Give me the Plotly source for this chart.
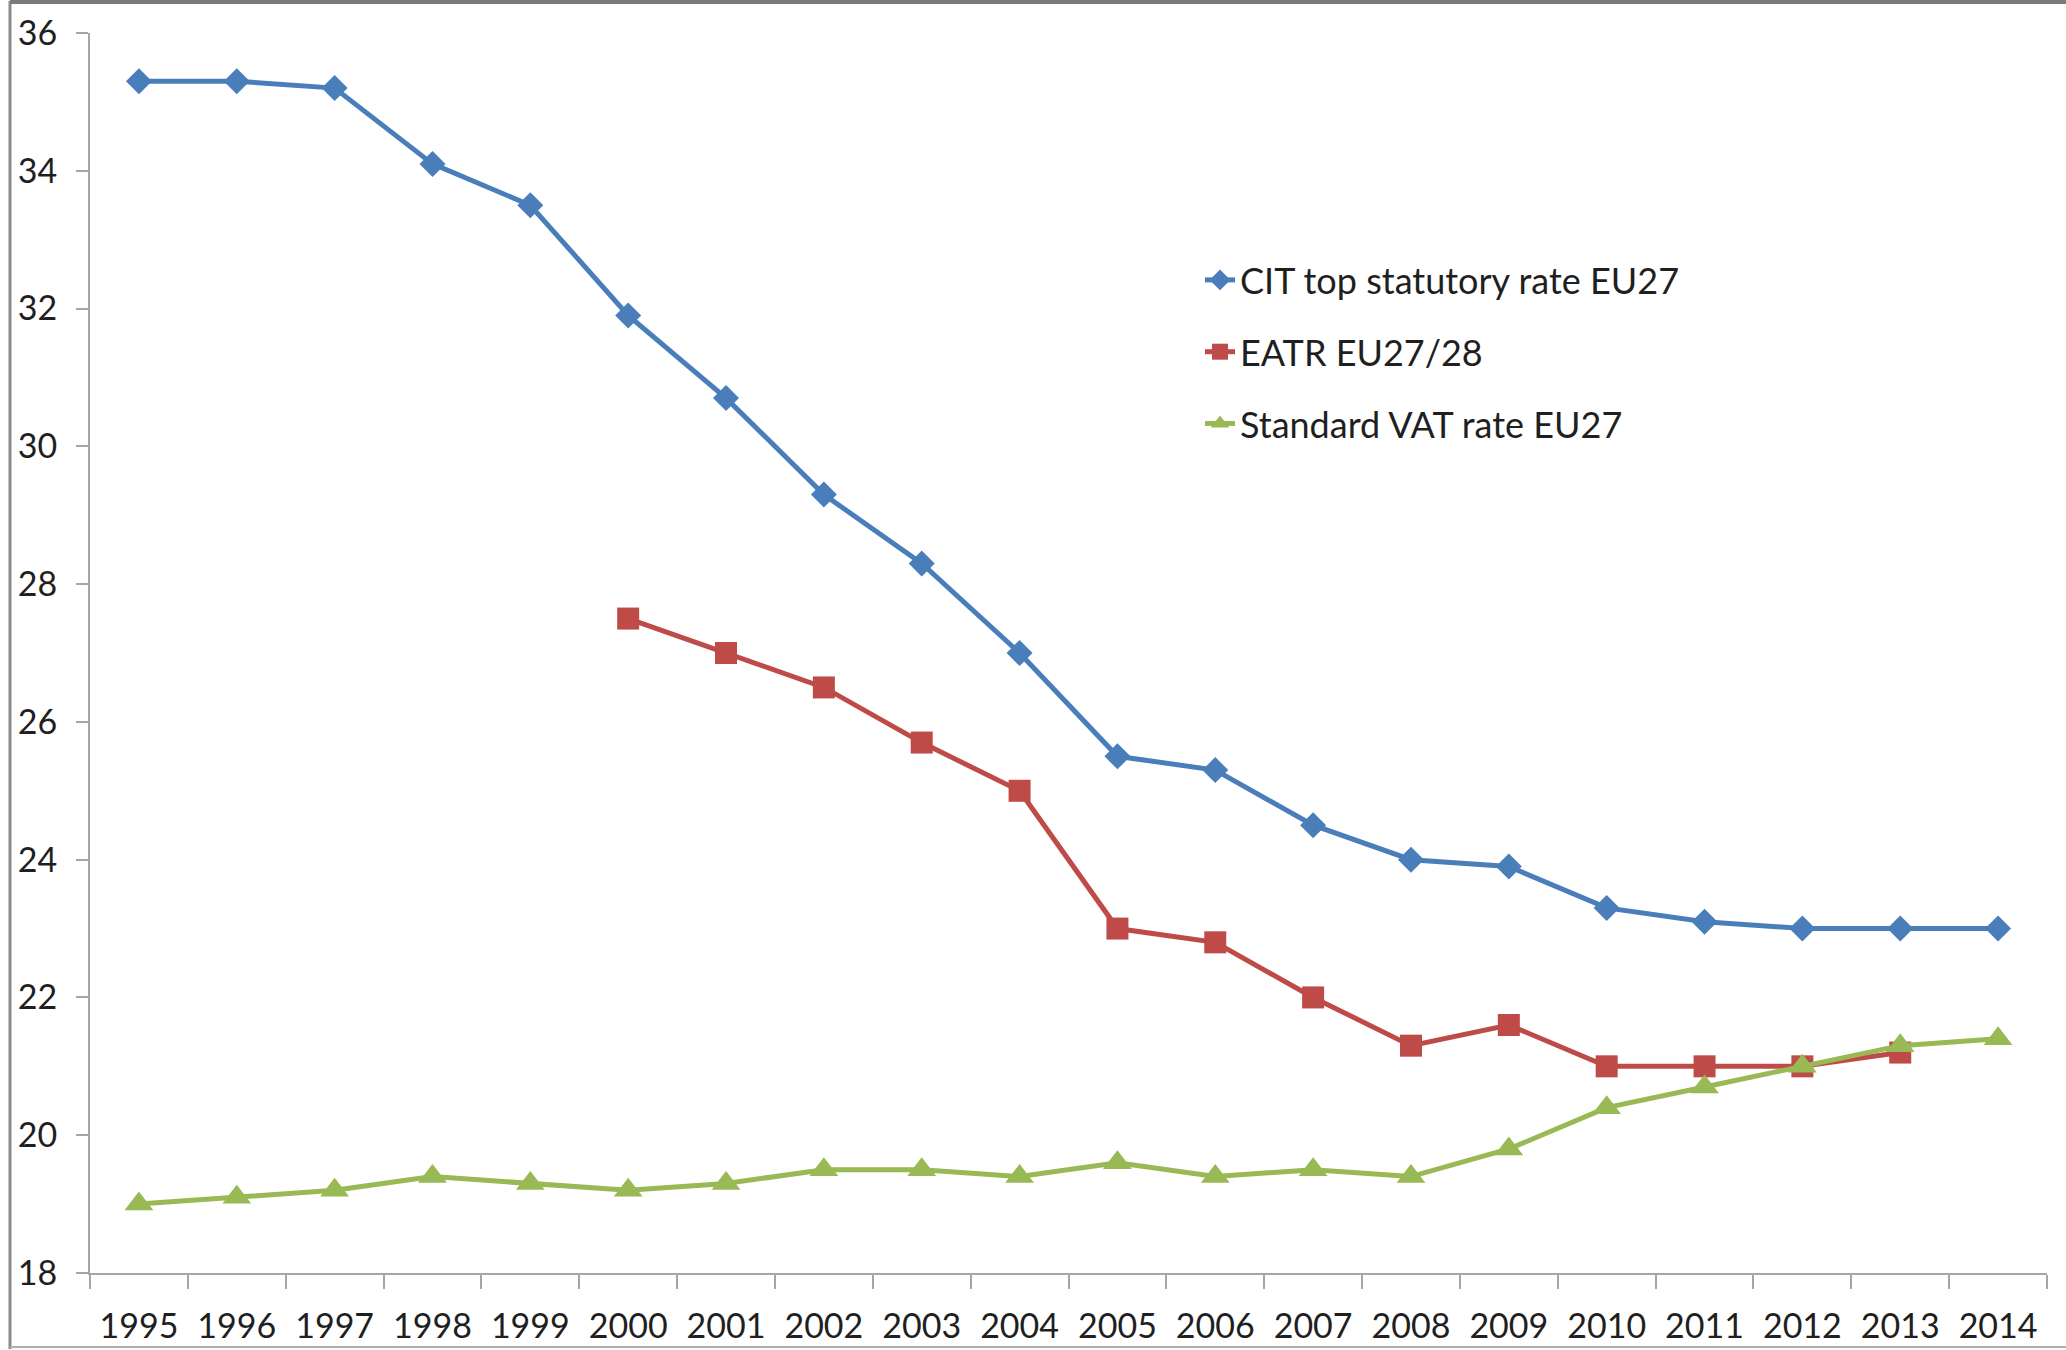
import plotly.graph_objects as go

years = [str(y) for y in range(1995, 2015)]
cit = [35.3, 35.3, 35.2, 34.1, 33.5, 31.9, 30.7, 29.3, 28.3, 27.0,
       25.5, 25.3, 24.5, 24.0, 23.9, 23.3, 23.1, 23.0, 23.0, 23.0]
eatr = [None, None, None, None, None, 27.5, 27.0, 26.5, 25.7, 25.0,
        23.0, 22.8, 22.0, 21.3, 21.6, 21.0, 21.0, 21.0, 21.2, None]
vat = [19.0, 19.1, 19.2, 19.4, 19.3, 19.2, 19.3, 19.5, 19.5, 19.4,
       19.6, 19.4, 19.5, 19.4, 19.8, 20.4, 20.7, 21.0, 21.3, 21.4]
names = ["CIT top statutory rate EU27", "EATR EU27/28", "Standard VAT rate EU27"]
colors = ["#4A7EBB", "#BE4B48", "#98B954"]
symbols = ["diamond", "square", "triangle-up"]
msizes = [20, 22, 25]
series = [cit, eatr, vat]

FONT = "Lato"
W, H = 2066, 1350
L, R, T, B = 90, 19, 33, 77
pw, ph = W - L - R, H - T - B

def px_x(p):
    return (p - L) / pw

def px_y(p):
    return (H - B - p) / ph

fig = go.Figure()
for i, (nm, vals) in enumerate(zip(names, series)):
    fig.add_trace(go.Scatter(
        x=years, y=vals, name=nm, mode="lines+markers",
        line=dict(color=colors[i], width=5),
        marker=dict(symbol=symbols[i], size=msizes[i], color=colors[i]),
        legendgroup=f"g{i}",
        connectgaps=False,
    ))

fig.update_layout(
    width=W, height=H,
    margin=dict(l=L, r=R, t=T, b=B),
    paper_bgcolor="white", plot_bgcolor="white",
    font=dict(family=FONT, size=34, color="#1f1f1f"),
    showlegend=True,
    legend=dict(
        x=px_x(1200), y=px_y(250), xanchor="left", yanchor="top",
        bgcolor="rgba(0,0,0,0)", font=dict(size=36, family=FONT, color="#1f1f1f"),
        traceorder="grouped", tracegroupgap=22, itemwidth=30,
    ),
    xaxis=dict(
        type="category", range=[-0.5, 19.5], automargin=False,
        showline=True, linecolor="#A6A6A6", linewidth=2,
        ticks="outside", tickson="boundaries", ticklen=14, tickwidth=2,
        tickcolor="#A6A6A6", showgrid=False, zeroline=False,
        tickfont=dict(size=34, family=FONT, color="#1f1f1f"),
        ticklabelstandoff=22,
    ),
    yaxis=dict(
        range=[18, 36], dtick=2, tick0=18, automargin=False,
        showline=True, linecolor="#A6A6A6", linewidth=2,
        ticks="outside", ticklen=12, tickwidth=2, tickcolor="#A6A6A6",
        showgrid=False, zeroline=False,
        tickfont=dict(size=34, family=FONT, color="#1f1f1f"),
        ticklabelstandoff=12,
    ),
    shapes=[
        dict(type="line", xref="paper", yref="paper",
             x0=px_x(10), x1=px_x(10), y0=px_y(1), y1=px_y(1349),
             line=dict(color="#8A8A8A", width=3)),
        dict(type="line", xref="paper", yref="paper",
             x0=px_x(10), x1=px_x(2066), y0=px_y(2), y1=px_y(2),
             line=dict(color="#7A7A7A", width=4)),
        dict(type="line", xref="paper", yref="paper",
             x0=px_x(10), x1=px_x(2066), y0=px_y(1347), y1=px_y(1347),
             line=dict(color="#B0B0B0", width=2)),
    ],
)

fig.write_html("out.html",
               config={"displayModeBar": False},
               post_script="document.body.style.margin='0';document.body.style.overflow='hidden';")
